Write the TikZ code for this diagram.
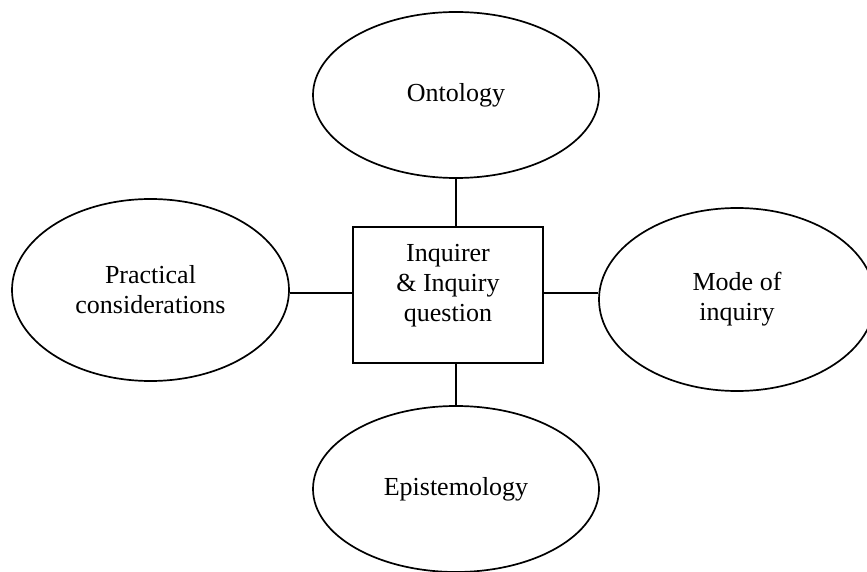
\documentclass[tikz,border=0pt]{standalone}
\usepackage{fontspec}
\setmainfont{Liberation Serif}
\usetikzlibrary{shapes.geometric}
\begin{document}
\begin{tikzpicture}[x=1pt,y=-1pt,
  every node/.style={font=\fontsize{26}{30}\selectfont},
  oval/.style={draw, ellipse, line width=1.7pt, inner sep=0pt, align=center},
  hub/.style={draw, rectangle, line width=1.7pt, inner sep=0pt,
              minimum width=190pt, minimum height=136pt},
  hubtext/.style={align=center, inner sep=0pt},
  link/.style={line width=1.7pt}]
  \useasboundingbox (0,0) rectangle (867,572);

  % central box
  \node[hub] (box) at (448,295) {};
  \node[hubtext] (boxtext) at (448,286) {Inquirer\\\& Inquiry\\question};

  % surrounding ovals
  \node[oval, minimum width=286pt, minimum height=166pt] (ont)  at (456,95)    {Ontology};
  \node[oval, minimum width=277pt, minimum height=182pt] (prac) at (150.5,290) {Practical\\considerations};
  \node[oval, minimum width=276pt, minimum height=183pt] (mode) at (737,299.5) {Mode of\\inquiry};
  \node[oval, minimum width=286pt, minimum height=166pt] (epis) at (456,489)   {Epistemology};

  % connectors
  \draw[link] (ont.south) -- (ont.south |- box.north);
  \draw[link] (epis.north) -- (epis.north |- box.south);
  \draw[link] (box.west |- 0,293) coordinate (bw) -- (bw -| prac.east);
  \draw[link] (box.east |- 0,293) coordinate (be) -- (be -| mode.west);
\end{tikzpicture}
\end{document}
